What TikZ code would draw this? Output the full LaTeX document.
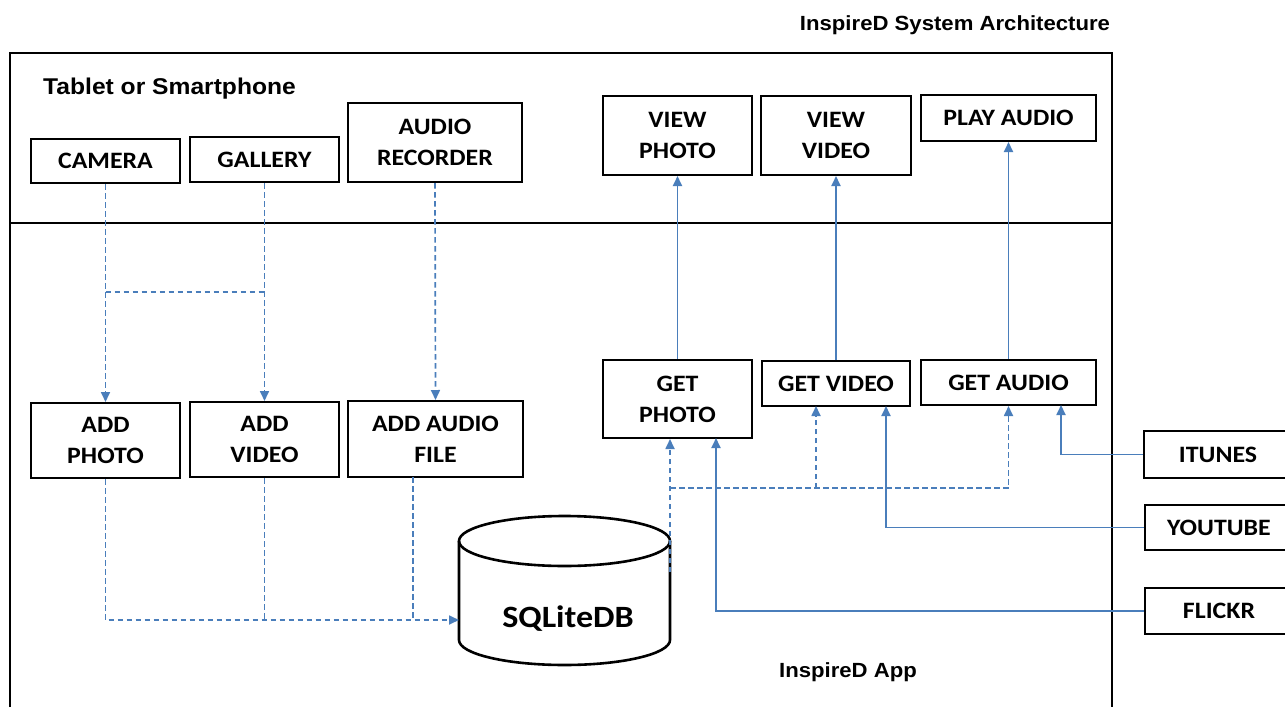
\documentclass[tikz,border=0pt]{standalone}
\usepackage{fontspec}
\setmainfont{Carlito}[FakeStretch=1.1]
\newfontfamily\arialf{Liberation Sans}[FakeStretch=1.08]
\usetikzlibrary{arrows.meta,calc}
\definecolor{lnblue}{RGB}{74,126,187}
\tikzset{
  box/.style={draw, line width=2, align=center, inner sep=0, font=\bfseries\fontsize{23.5}{31}\selectfont},
  dline/.style={draw=lnblue, line width=1.7, dash pattern=on 5.5pt off 3.5pt},
  sline/.style={draw=lnblue, line width=1.8},
  arr/.style={-{Triangle[length=10pt,width=9pt]}, lnblue},
  lbl/.style={font=\arialf\bfseries\fontsize{20.5}{24}\selectfont, inner sep=0}
}
\begin{document}
\begin{tikzpicture}[x=1pt,y=-1pt]
\useasboundingbox (0,0) rectangle (1285,707);
% frame
\draw[line width=2.6] (10,707) -- (10,53) -- (1112,53) -- (1112,707);
\draw[line width=1.8] (10,223) -- (1112,223);
% labels
\node[lbl] (title) at (955,25) {InspireD System Architecture};
\node[lbl, font=\arialf\bfseries\fontsize{22.8}{26}\selectfont, anchor=west] (tablet) at (43,89) {Tablet or Smartphone};
\node[lbl] (app) at (848,672) {InspireD App};
% top boxes
\node[box, minimum width=149, minimum height=44] (camera) at (105.5,161) {CAMERA};
\node[box, minimum width=149, minimum height=45] (gallery) at (264.5,159.5) {GALLERY};
\node[box, minimum width=174, minimum height=79] (recorder) at (435,142.5) {AUDIO\\RECORDER};
\node[box, minimum width=149, minimum height=79] (viewphoto) at (677.5,135.5) {VIEW\\PHOTO};
\node[box, minimum width=150, minimum height=79] (viewvideo) at (836,135.5) {VIEW\\VIDEO};
\node[box, minimum width=175, minimum height=46] (playaudio) at (1008.5,118) {PLAY AUDIO};
% bottom boxes
\node[box, minimum width=149, minimum height=75] (addphoto) at (105.5,440.5) {ADD\\PHOTO};
\node[box, minimum width=149, minimum height=75] (addvideo) at (264.5,439.5) {ADD\\VIDEO};
\node[box, minimum width=175, minimum height=76] (addaudio) at (435.5,439) {ADD AUDIO\\FILE};
\node[box, minimum width=149, minimum height=78] (getphoto) at (677.5,399) {GET\\PHOTO};
\node[box, minimum width=148, minimum height=45] (getvideo) at (836,383.5) {GET VIDEO};
\node[box, minimum width=175, minimum height=45] (getaudio) at (1008.5,382.5) {GET AUDIO};
\node[box, minimum width=148, minimum height=47] (itunes) at (1218,454.5) {ITUNES};
\node[box, minimum width=148, minimum height=45] (youtube) at (1219,527.5) {YOUTUBE};
\node[box, minimum width=148, minimum height=46] (flickr) at (1219,611) {FLICKR};
% database cylinder
\draw[line width=2.6] (564.5,541) ellipse [x radius=105.5, y radius=25];
\draw[line width=2.6] (459,541) -- (459,640) arc[start angle=180, end angle=0, x radius=105.5, y radius=25] -- (670,541);
\node[font=\bfseries\fontsize{31}{36}\selectfont, inner sep=0] (db) at (568,619) {SQLiteDB};
\coordinate (dbw) at (459,620);
\coordinate (dbr) at (670,572);
% helper coordinates
\coordinate (hy1) at (0,292);
\coordinate (hy2) at (0,488);
\coordinate (aa) at (413,477);
\coordinate (gv) at (816,406);
\coordinate (ga2) at (1061,405);
\coordinate (gv2) at (886,406);
\coordinate (gp2) at (716,438);
% dashed connectors (left)
\draw[dline,arr] (camera.south) -- (addphoto.north);
\draw[dline,arr] (gallery.south) -- (addvideo.north);
\draw[dline] (camera.south |- hy1) -- (gallery.south |- hy1);
\draw[dline,arr] (recorder.south) -- (addaudio.north);
\draw[dline,arr] (addphoto.south) |- (dbw);
\draw[dline] (addvideo.south) -- (addvideo.south |- dbw);
\draw[dline] (aa) -- (aa |- dbw);
% dashed connectors (right)
\draw[dline,arr] (dbr) -- (dbr |- getphoto.south);
\draw[dline,arr] (dbr |- hy2) -| (getaudio.south);
\draw[dline,arr] (gv |- hy2) -- (gv);
% solid connectors
\draw[sline,arr] (getphoto.north) -- (viewphoto.south);
\draw[sline,arr] (getvideo.north) -- (viewvideo.south);
\draw[sline,arr] (getaudio.north) -- (playaudio.south);
\draw[sline,arr] (itunes.west) -| (ga2);
\draw[sline,arr] (youtube.west) -| (gv2);
\draw[sline,arr] (flickr.west) -| (gp2);
\end{tikzpicture}
\end{document}
